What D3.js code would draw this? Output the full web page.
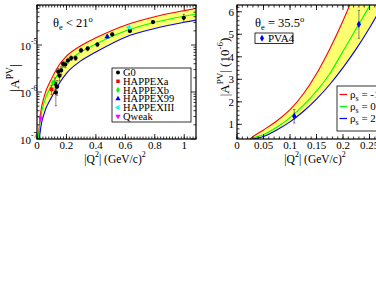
<!DOCTYPE html>
<html lang="en">
<head>
<meta charset="utf-8">
<title>Parity-violating asymmetry</title>
<script src="https://d3js.org/d3.v7.min.js"></script>
<style>
  body { margin: 0; background: #fff; }
  svg text { font-family: "Liberation Serif", "Times New Roman", serif; fill: #000; }
</style>
</head>
<body>
<div class="main"></div>
<script>
// ---- left panel: forward angle data, |A| vs Q^2 (log scale) ----
var q2Left = [0.005, 0.01, 0.016, 0.025, 0.05, 0.1, 0.15, 0.2, 0.3, 0.4, 0.6, 0.8, 1.0, 1.1]
var redLeft = [5e-8, 1.15e-7, 1.95e-7, 3.63e-7, 8.25e-7, 1.95e-6, 3.75e-6, 5.8e-6, 9.75e-6, 1.42e-5, 2.64e-5, 4.0e-5, 5.4e-5, 6.16e-5]
var greenLeft = [4.5e-8, 1.0e-7, 1.7e-7, 2.88e-7, 6.25e-7, 1.38e-6, 2.63e-6, 4.1e-6, 7.2e-6, 1.05e-5, 1.98e-5, 3.04e-5, 4.1e-5, 4.62e-5]
var blueLeft = [3e-8, 6e-8, 1.0e-7, 1.7e-7, 3.6e-7, 7.8e-7, 1.5e-6, 2.5e-6, 4.65e-6, 7.1e-6, 1.47e-5, 2.24e-5, 3.05e-5, 3.47e-5]

// G0 points (Q2, |A| in ppm, error in ppm)
var g0Q2 = [0.122, 0.128, 0.136, 0.144, 0.153, 0.164, 0.177, 0.192, 0.210, 0.232, 0.262, 0.299, 0.344, 0.410, 0.511, 0.631, 0.788, 0.997]
var g0A = [1.51, 0.97, 1.30, 2.71, 2.22, 2.88, 3.95, 3.85, 4.68, 5.27, 5.26, 7.72, 8.40, 10.25, 16.81, 19.96, 30.8, 37.9]
var g0Err = [0.49, 0.46, 0.45, 0.47, 0.51, 0.54, 0.50, 0.53, 0.56, 0.59, 0.53, 0.80, 0.87, 1.01, 1.11, 1.3, 1.9, 7.2]

var otherNames = ["HAPPEXa", "HAPPEXb", "HAPPEX99", "HAPPEXIII", "Qweak"]
var otherQ2 = [0.099, 0.109, 0.477, 0.624, 0.025]
var otherA = [1.14, 1.58, 15.05, 23.8, 0.279]
var otherErr = [0.25, 0.13, 1.1, 0.9, 0.047]
var otherColors = ["#ff0000", "#00ff00", "#0000ff", "#00ffff", "#ff00ff"]

var leftXTicks = [0, 0.2, 0.4, 0.6, 0.8, 1]
var leftYTicks = [-7, -6, -5]

// ---- right panel: PVA4 at 35.5 deg ----
var q2Right = [0.02, 0.025, 0.05, 0.075, 0.1, 0.125, 0.15, 0.175, 0.2, 0.225, 0.25, 0.275, 0.3]
var redRight = [0.25, 0.36, 0.75, 1.15, 1.65, 2.35, 3.25, 4.35, 5.6, 7.0, 8.5, 10.1, 11.8]
var greenRight = [0.22, 0.32, 0.54, 0.87, 1.30, 1.84, 2.48, 3.25, 4.25, 5.25, 6.25, 7.3, 8.4]
var blueRight = [0.2, 0.29, 0.46, 0.75, 1.11, 1.57, 2.12, 2.77, 3.52, 4.35, 5.28, 6.3, 7.4]
var rhoLabels = ["-1.5", "0.5", "2.5"]

var pvaQ2 = [0.108, 0.230]
var pvaA = [1.36, 5.44]
var pvaErr = [0.30, 0.62]

var rightXTicks = [0, 0.05, 0.1, 0.15, 0.2, 0.25]
var rightYTicks = [1, 2, 3, 4, 5, 6]

var width = 376
var height = 291
var svg = d3.select(".main").append("svg")
	.attr("width", width)
	.attr("height", height)

var xL = d3.scaleLinear().domain([0, 1.08]).range([37, 196])
var yL = d3.scaleLog().domain([1e-7, 7.1e-5]).range([139, 5])
var xR = d3.scaleLinear().domain([0, 0.3]).range([237, 396])
var yR = d3.scaleLinear().domain([0.35, 6.3]).range([139, 5])

var defs = svg.append("defs")
function clip(id, x, y) {
	defs.append("clipPath").attr("id", id).append("rect")
		.attr("x", x.range()[0]).attr("y", y.range()[1])
		.attr("width", x.range()[1] - x.range()[0])
		.attr("height", y.range()[0] - y.range()[1])
}
clip("clipL", xL, yL)
clip("clipR", xR, yR)

// band + three curves
function band(g, x, y, qs, hi, mid, lo) {
	var area = d3.area().curve(d3.curveMonotoneX)
		.x(function(d, i) { return x(qs[i]) })
		.y0(function(d, i) { return y(lo[i]) })
		.y1(function(d, i) { return y(hi[i]) })
	g.append("path").attr("d", area(qs)).attr("fill", "#ffff70")
	var cols = ["#ff0000", "#00ff00", "#0000ff"]
	;[hi, mid, lo].forEach(function(vals, k) {
		var line = d3.line().curve(d3.curveMonotoneX)
			.x(function(d, i) { return x(qs[i]) })
			.y(function(d, i) { return y(vals[i]) })
		g.append("path").attr("d", line(qs))
			.attr("fill", "none").attr("stroke", cols[k]).attr("stroke-width", 1.1)
	})
}

function frame(x, y, xMajor, xMinor, yMajor, yMinor) {
	var x0 = x.range()[0], x1 = x.range()[1], y0 = y.range()[0], y1 = y.range()[1]
	var g = svg.append("g")
	xMinor.forEach(function(v) {
		g.append("line").attr("x1", x(v)).attr("x2", x(v)).attr("y1", y0).attr("y2", y0 - 2.5)
		g.append("line").attr("x1", x(v)).attr("x2", x(v)).attr("y1", y1).attr("y2", y1 + 2.5)
	})
	xMajor.forEach(function(v) {
		g.append("line").attr("x1", x(v)).attr("x2", x(v)).attr("y1", y0).attr("y2", y0 - 5)
		g.append("line").attr("x1", x(v)).attr("x2", x(v)).attr("y1", y1).attr("y2", y1 + 5)
	})
	yMinor.forEach(function(v) {
		g.append("line").attr("x1", x0).attr("x2", x0 + 2.5).attr("y1", y(v)).attr("y2", y(v))
		g.append("line").attr("x1", x1).attr("x2", x1 - 2.5).attr("y1", y(v)).attr("y2", y(v))
	})
	yMajor.forEach(function(v) {
		g.append("line").attr("x1", x0).attr("x2", x0 + 5).attr("y1", y(v)).attr("y2", y(v))
		g.append("line").attr("x1", x1).attr("x2", x1 - 5).attr("y1", y(v)).attr("y2", y(v))
	})
	g.selectAll("line").attr("stroke", "#000").attr("stroke-width", 0.8)
	g.append("rect").attr("x", x0).attr("y", y1).attr("width", x1 - x0).attr("height", y0 - y1)
		.attr("fill", "none").attr("stroke", "#000").attr("stroke-width", 1.2)
}

function marker(g, type, rot, cx, cy, color, size) {
	g.append("path")
		.attr("d", d3.symbol().type(type).size(size)())
		.attr("transform", "translate(" + cx + "," + cy + ") rotate(" + rot + ")")
		.attr("fill", color)
}

function errBar(g, cx, ya, yb, color) {
	g.append("line").attr("x1", cx).attr("x2", cx).attr("y1", ya).attr("y2", yb)
		.attr("stroke", color).attr("stroke-width", 0.7)
	;[ya, yb].forEach(function(yy) {
		g.append("line").attr("x1", cx - 1.2).attr("x2", cx + 1.2).attr("y1", yy).attr("y2", yy)
			.attr("stroke", color).attr("stroke-width", 0.7)
	})
}

// ----- left panel -----
var gL = svg.append("g").attr("clip-path", "url(#clipL)")
band(gL, xL, yL, q2Left, redLeft, greenLeft, blueLeft)

g0Q2.forEach(function(q, i) {
	errBar(gL, xL(q), yL((g0A[i] + g0Err[i]) * 1e-6), yL(Math.max(g0A[i] - g0Err[i], 0.05) * 1e-6), "#555")
})
otherQ2.forEach(function(q, i) {
	errBar(gL, xL(q), yL((otherA[i] + otherErr[i]) * 1e-6), yL((otherA[i] - otherErr[i]) * 1e-6), otherColors[i])
})
g0Q2.forEach(function(q, i) {
	marker(gL, d3.symbolCircle, 0, xL(q), yL(g0A[i] * 1e-6), "#000", 14)
})
var otherSym = [[d3.symbolSquare, 0], [d3.symbolDiamond, 0], [d3.symbolTriangle, 0], [d3.symbolTriangle, -90], [d3.symbolTriangle, 180]]
otherQ2.forEach(function(q, i) {
	marker(gL, otherSym[i][0], otherSym[i][1], xL(q), yL(otherA[i] * 1e-6), otherColors[i], 14)
})

var minorLX = d3.range(0, 1.081, 0.02)
var minorLY = []
leftYTicks.forEach(function(e) {
	for (var m = 2; m <= 9; m++) {
		var v = m * Math.pow(10, e)
		if (v < 7.1e-5) minorLY.push(v)
	}
})
frame(xL, yL, leftXTicks, minorLX, leftYTicks.map(function(e) { return Math.pow(10, e) }), minorLY)

svg.append("g").selectAll("text").data(leftXTicks).enter().append("text")
	.attr("x", function(d) { return xL(d) }).attr("y", 148.5)
	.attr("text-anchor", "middle").attr("font-size", 11)
	.text(function(d) { return d })

leftYTicks.forEach(function(e) {
	var t = svg.append("text").attr("x", 20).attr("y", yL(Math.pow(10, e)) + 5).attr("font-size", 11)
	t.append("tspan").text("10")
	t.append("tspan").attr("dy", -6).attr("font-size", 7.5).text(e)
})

var thL = svg.append("text").attr("x", 53).attr("y", 27).attr("font-size", 12.5)
thL.append("tspan").text("θ")
thL.append("tspan").attr("dy", 3).attr("font-size", 8.5).text("e")
thL.append("tspan").attr("dy", -3).text(" < 21")
thL.append("tspan").attr("dy", -5).attr("font-size", 8.5).text("o")

// legend
var lg = svg.append("g")
lg.append("rect").attr("x", 112).attr("y", 68).attr("width", 79).attr("height", 54)
	.attr("fill", "#fff").attr("stroke", "#000").attr("stroke-width", 0.8)
var legNames = ["G0"].concat(otherNames)
var legCols = ["#000"].concat(otherColors)
var legSym = [[d3.symbolCircle, 0]].concat(otherSym)
legNames.forEach(function(n, i) {
	var yy = 72.5 + i * 8.75
	marker(lg, legSym[i][0], legSym[i][1], 118, yy, legCols[i], 12)
	lg.append("text").attr("x", 123).attr("y", yy + 3.5).attr("font-size", 10.5).text(n)
})

var ytL = svg.append("text").attr("transform", "translate(19,78) rotate(-90)")
	.attr("text-anchor", "middle").attr("font-size", 13.5)
ytL.append("tspan").text("|A")
ytL.append("tspan").attr("dy", -6).attr("font-size", 9.5).text("PV")
ytL.append("tspan").attr("dy", 6).text("|")

function xTitle(cx) {
	var t = svg.append("text").attr("x", cx).attr("y", 163).attr("text-anchor", "middle").attr("font-size", 11.5)
	t.append("tspan").text("|Q")
	t.append("tspan").attr("dy", -6).attr("font-size", 8).text("2")
	t.append("tspan").attr("dy", 6).text("| (GeV/c)")
	t.append("tspan").attr("dy", -6).attr("font-size", 8).text("2")
}
xTitle(115)

// ----- right panel -----
var gR = svg.append("g").attr("clip-path", "url(#clipR)")
band(gR, xR, yR, q2Right, redRight, greenRight, blueRight)
pvaQ2.forEach(function(q, i) {
	errBar(gR, xR(q), yR(pvaA[i] + pvaErr[i]), yR(pvaA[i] - pvaErr[i]), "#555")
	marker(gR, d3.symbolDiamond, 0, xR(q), yR(pvaA[i]), "#0000ff", 16)
})

frame(xR, yR, rightXTicks, d3.range(0, 0.301, 0.01), rightYTicks, d3.range(0.4, 6.3, 0.2))

svg.append("g").selectAll("text").data(rightXTicks).enter().append("text")
	.attr("x", function(d) { return xR(d) }).attr("y", 148.5)
	.attr("text-anchor", "middle").attr("font-size", 11)
	.text(function(d) { return d })
svg.append("g").selectAll("text").data(rightYTicks).enter().append("text")
	.attr("x", 234).attr("y", function(d) { return yR(d) + 4 })
	.attr("text-anchor", "end").attr("font-size", 11)
	.text(function(d) { return d })

var thR = svg.append("text").attr("x", 255).attr("y", 27).attr("font-size", 12.5)
thR.append("tspan").text("θ")
thR.append("tspan").attr("dy", 3).attr("font-size", 8.5).text("e")
thR.append("tspan").attr("dy", -3).text(" = 35.5")
thR.append("tspan").attr("dy", -5).attr("font-size", 8.5).text("o")

svg.append("rect").attr("x", 255).attr("y", 33).attr("width", 38).attr("height", 10.5)
	.attr("fill", "#fff").attr("stroke", "#000").attr("stroke-width", 0.8)
marker(svg, d3.symbolDiamond, 0, 262, 38.3, "#0000ff", 14)
svg.append("text").attr("x", 268).attr("y", 42).attr("font-size", 11).text("PVA4")

var rg = svg.append("g")
rg.append("rect").attr("x", 337).attr("y", 86).attr("width", 60).attr("height", 45)
	.attr("fill", "#fff").attr("stroke", "#000").attr("stroke-width", 0.8)
;["#ff0000", "#00ff00", "#0000ff"].forEach(function(c, i) {
	var yy = 94.5 + i * 12
	rg.append("line").attr("x1", 339.5).attr("x2", 347).attr("y1", yy).attr("y2", yy)
		.attr("stroke", c).attr("stroke-width", 1.2)
	var t = rg.append("text").attr("x", 350).attr("y", yy + 3.5).attr("font-size", 11)
	t.append("tspan").text("ρ")
	t.append("tspan").attr("dy", 3).attr("font-size", 8).text("s")
	t.append("tspan").attr("dy", -3).text(" = " + rhoLabels[i])
})

var ytR = svg.append("text").attr("transform", "translate(229,67) rotate(-90)")
	.attr("text-anchor", "middle").attr("font-size", 13)
ytR.append("tspan").text("|A")
ytR.append("tspan").attr("dy", -6).attr("font-size", 9).text("PV")
ytR.append("tspan").attr("dy", 6).text("| (10")
ytR.append("tspan").attr("dy", -6).attr("font-size", 9).text("-6")
ytR.append("tspan").attr("dy", 6).text(")")

xTitle(315)
</script>
</body>
</html>
